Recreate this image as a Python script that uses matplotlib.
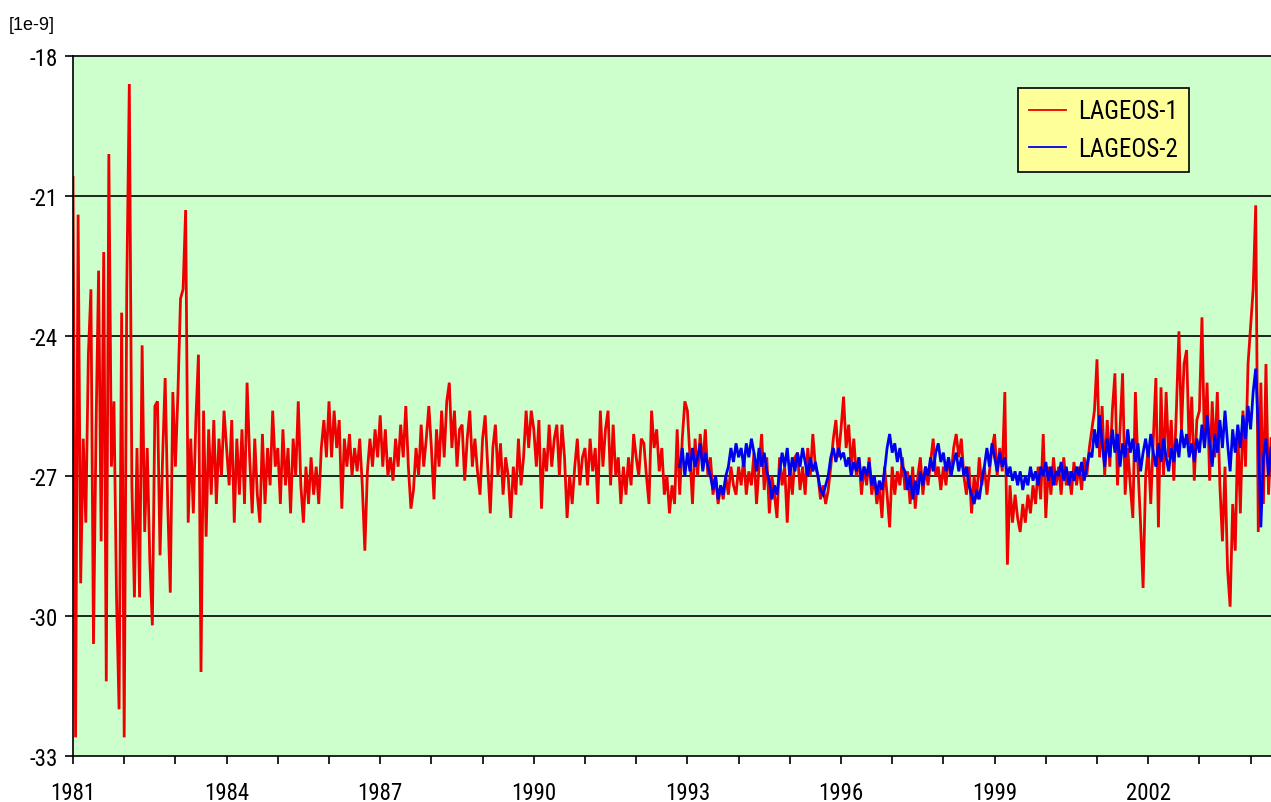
import numpy as np
import matplotlib
matplotlib.use("Agg")
import matplotlib.pyplot as plt
from matplotlib.ticker import MultipleLocator
from matplotlib.font_manager import FontProperties, findfont

# ---------------- data (units 1e-9) ----------------
L1_START = 1981.0      # first LAGEOS-1 epoch (year)
L2_START = 1992.85     # first LAGEOS-2 epoch (year)
STEP = 0.05            # sampling interval (year)

lageos1 = [
    # 1981
    -20.6, -32.6, -21.4, -29.3, -26.2, -28.0, -24.4, -23.0, -30.6, -26.0,
    -22.6, -28.4, -22.2, -31.4, -20.1, -26.8, -25.4, -29.6, -32.0, -23.5,
    # 1982
    -32.6, -23.0, -18.6, -27.2, -29.6, -26.4, -29.6, -24.2, -28.2, -26.4,
    -28.8, -30.2, -25.5, -25.4, -28.7, -26.6, -24.9, -27.6, -29.5, -25.2,
    # 1983
    -26.8, -25.2, -23.2, -23.0, -21.3, -28.0, -26.2, -27.8, -25.8, -24.4,
    -31.2, -25.6, -28.3, -26.0, -27.4, -25.8, -27.6, -26.2, -27.0, -25.6,
    # 1984
    -26.4, -27.2, -25.8, -28.0, -26.2, -27.4, -26.0, -27.6, -25.0, -26.6,
    -27.8, -26.2, -27.4, -28.0, -26.1, -27.6, -26.4, -27.2, -25.6, -26.8,
    # 1985
    -26.4, -27.6, -26.0, -27.2, -26.4, -27.8, -26.2, -27.0, -25.4, -27.2,
    -28.0, -26.8, -27.6, -26.6, -27.4, -26.8, -27.6, -26.4, -25.8, -26.6,
    # 1986
    -25.4, -26.6, -25.6, -26.4, -25.8, -27.7, -26.2, -26.8, -26.1, -27.0,
    -26.4, -26.9, -26.2, -27.2, -28.6, -26.9, -26.2, -26.8, -26.0, -26.6,
    # 1987
    -25.7, -26.8, -26.0, -27.0, -26.6, -27.1, -26.2, -26.8, -25.9, -26.6,
    -25.5, -26.8, -27.7, -27.3, -26.4, -27.0, -25.9, -26.8, -26.2, -25.5,
    # 1988
    -26.4, -27.5, -26.0, -26.8, -25.6, -26.6, -25.4, -25.0, -26.4, -25.6,
    -26.8, -26.0, -25.9, -27.1, -26.2, -25.6, -26.8, -26.2, -26.9, -27.4,
    # 1989
    -26.2, -25.7, -26.8, -27.8, -26.4, -25.9, -27.0, -26.3, -27.4, -26.6,
    -27.0, -27.9, -26.8, -27.4, -26.2, -27.2, -26.6, -25.6, -26.4, -25.6,
    # 1990
    -26.0, -26.8, -25.8, -27.7, -26.4, -26.9, -25.9, -26.8, -26.2, -25.9,
    -27.0, -25.9, -26.6, -27.9, -27.0, -27.6, -26.8, -26.2, -27.2, -26.6,
    # 1991
    -26.4, -27.2, -26.2, -26.9, -26.4, -27.6, -25.6, -26.8, -26.0, -25.6,
    -27.2, -25.9, -27.0, -26.6, -27.6, -26.8, -27.4, -26.6, -27.2, -26.1,
    # 1992
    -26.6, -27.0, -26.2, -26.3, -27.0, -27.6, -25.6, -26.4, -26.0, -26.9,
    -26.4, -27.4, -27.0, -27.8, -27.2, -27.6, -26.0, -27.4, -26.2, -25.4,
    # 1993
    -25.6, -26.6, -27.6, -26.2, -27.0, -26.1, -26.8, -26.0, -27.0, -26.6,
    -27.4, -27.0, -27.6, -27.2, -27.5, -27.0, -27.4, -26.8, -27.2, -27.4,
    # 1994
    -26.8, -27.2, -26.6, -27.4, -26.9, -27.2, -26.5, -27.6, -26.8, -26.1,
    -27.3, -26.6, -27.8, -27.0, -27.4, -27.9, -26.6, -27.2, -26.8, -28.0,
    # 1995
    -26.8, -27.4, -26.6, -26.5, -27.3, -26.8, -27.4, -26.4, -27.0, -26.1,
    -26.8, -27.0, -27.5, -27.2, -27.6, -27.3, -26.8, -26.2, -25.8, -26.6,
    # 1996
    -26.0, -25.3, -26.4, -25.9, -26.8, -26.2, -27.0, -26.6, -27.4, -26.8,
    -27.2, -26.6, -27.4, -27.0, -27.6, -27.2, -27.9, -26.8, -27.4, -28.1,
    # 1997
    -26.8, -27.4, -26.9, -27.2, -26.6, -27.3, -26.9, -27.6, -26.8, -27.7,
    -27.0, -26.6, -27.4, -26.8, -27.2, -26.7, -26.2, -27.0, -26.8, -27.3,
    # 1998
    -26.8, -27.2, -26.6, -27.0, -26.4, -26.1, -26.6, -26.2, -27.0, -27.4,
    -26.8, -27.8, -27.0, -27.5, -26.6, -27.2, -26.8, -27.4, -26.9, -26.4,
    # 1999
    -26.1, -27.0, -26.4, -26.9, -25.2, -28.9, -27.2, -28.0, -27.4, -27.9,
    -28.2, -27.6, -28.0, -27.4, -27.8, -27.2, -27.6, -26.8, -27.5, -26.1,
    # 2000
    -27.9, -26.8, -27.4, -26.6, -27.2, -26.8, -27.4, -26.6, -27.2, -26.9,
    -27.4, -26.7, -27.2, -26.8, -27.3, -26.6, -27.0, -26.4, -26.0, -25.6,
    # 2001
    -24.5, -26.6, -25.5, -27.0, -25.8, -26.8, -25.6, -24.8, -27.2, -26.0,
    -24.8, -27.4, -26.4, -27.2, -27.9, -25.2, -26.8, -28.0, -29.4, -27.0,
    # 2002
    -26.4, -27.6, -26.2, -24.9, -28.1, -25.1, -27.0, -25.2, -26.6, -25.8,
    -27.1, -25.6, -23.9, -26.0, -24.6, -24.3, -26.4, -25.3, -27.1, -25.8,
    # 2003
    -25.6, -23.6, -26.4, -25.0, -27.1, -25.4, -26.6, -25.2, -27.2, -28.4,
    -26.8, -29.0, -29.8, -27.6, -28.6, -26.0, -27.8, -25.6, -26.8, -24.6,
    # 2004
    -23.8, -23.0, -21.2, -28.2, -25.0, -27.6, -24.6, -27.4, -26.2,
]

lageos2 = [
    # 1992 (from launch)
    -26.8, -26.4, -27.0,
    # 1993
    -26.5, -26.9, -26.4, -26.8, -26.6, -26.3, -26.9, -26.5, -26.8, -27.0,
    -27.3, -27.0, -27.5, -27.2, -27.4, -27.0, -26.8, -26.4, -26.7, -26.3,
    # 1994
    -26.6, -26.4, -26.8, -26.3, -26.6, -26.2, -26.5, -26.9, -26.4, -26.8,
    -26.5, -26.9, -27.1, -27.5, -27.2, -27.4, -26.9, -26.5, -26.8, -26.4,
    # 1995
    -27.0, -26.6, -26.9, -26.5, -26.8, -26.4, -26.7, -27.0, -26.6, -26.9,
    -26.7, -27.0, -27.3, -27.4, -27.2, -27.0, -26.6, -26.4, -26.7, -26.4,
    # 1996
    -26.6, -26.5, -26.8, -26.6, -27.0, -26.7, -26.9, -26.6, -27.1, -26.8,
    -27.0, -26.7, -27.2, -27.0, -27.4, -27.1, -27.3, -26.9, -26.4, -26.1,
    # 1997
    -26.5, -26.3, -26.7, -26.4, -26.8, -26.9, -27.3, -27.0, -27.5, -27.1,
    -27.4, -26.9, -27.2, -26.8, -27.0, -26.6, -26.9, -26.5, -26.3, -26.7,
    # 1998
    -26.5, -26.9, -26.6, -27.0, -26.7, -26.5, -26.9, -26.6, -27.0, -26.8,
    -27.2, -27.4, -27.6, -27.3, -27.5, -27.1, -26.8, -26.4, -26.8, -26.3,
    # 1999
    -26.6, -26.9, -26.5, -26.8, -26.6, -27.0, -26.8, -27.1, -26.9, -27.2,
    -26.9, -27.3, -27.0, -27.2, -26.8, -27.1, -26.9, -27.2, -26.8, -27.0,
    # 2000
    -26.7, -27.1, -26.8, -27.2, -26.9, -27.0, -26.7, -27.1, -26.8, -27.2,
    -26.9, -27.1, -26.8, -27.0, -26.7, -27.1, -26.8, -26.5, -26.6, -26.0,
    # 2001
    -26.4, -25.7, -26.3, -26.8, -26.2, -26.6, -26.0, -26.5, -26.1, -26.8,
    -26.3, -26.6, -26.0, -26.5, -26.2, -26.7, -26.3, -26.9, -26.5, -26.2,
    # 2002
    -26.6, -26.1, -26.5, -26.8, -26.3, -26.7, -26.2, -26.6, -26.9, -26.4,
    -26.7, -26.2, -26.6, -26.0, -26.4, -26.1, -26.6, -26.3, -26.7, -26.2,
    # 2003
    -26.5, -25.9, -26.4, -25.7, -26.3, -26.8, -26.1, -26.5, -25.8, -26.4,
    -25.6, -26.3, -26.9, -26.0, -26.5, -25.9, -26.4, -25.7, -26.2, -25.5,
    # 2004
    -26.0, -25.2, -24.7, -26.0, -28.1, -26.6, -26.2, -27.0, -26.4,
]

series_labels = ["LAGEOS-1", "LAGEOS-2"]
x_tick_years = [1981, 1984, 1987, 1990, 1993, 1996, 1999, 2002]
y_ticks = [-33, -30, -27, -24, -21, -18]
unit_label = "[1e-9]"

# ---------------- fonts: prefer a narrow sans like the original ----------------
def pick_family(cands):
    for c in cands:
        try:
            findfont(FontProperties(family=c), fallback_to_default=False)
            return c
        except Exception:
            continue
    return "DejaVu Sans"

narrow = pick_family(["Liberation Sans Narrow", "Roboto Condensed",
                      "Open Sans Condensed", "DejaVu Sans Condensed",
                      "Liberation Sans"])
is_narrow = narrow != "Liberation Sans"
families = [narrow, "Liberation Sans", "DejaVu Sans"]
tick_size = 16.5 if is_narrow else 14
leg_size = 18 if is_narrow else 15.5

# ---------------- figure ----------------
W, H = 1271, 803
fig = plt.figure(figsize=(W / 100, H / 100), dpi=100)
fig.patch.set_facecolor("white")

ax_left, ax_right, ax_top, ax_bottom = 73, 1271, 57, 757
ax = fig.add_axes([ax_left / W, (H - ax_bottom) / H,
                   (ax_right - ax_left) / W, (ax_bottom - ax_top) / H])
ax.set_facecolor("#CCFFCC")

px_per_year = 51.2
ax.set_xlim(1981, 1981 + (ax_right - ax_left) / px_per_year)
ax.set_ylim(-33, -18)

for yv in y_ticks[1:-1]:
    ax.axhline(yv, color="black", lw=1.2, zorder=1)

t1 = L1_START + STEP * np.arange(len(lageos1))
t2 = L2_START + STEP * np.arange(len(lageos2))
ax.plot(t1, lageos1, color="#EE0000", lw=2.0, zorder=2, label=series_labels[0],
        solid_joinstyle="miter")
ax.plot(t2, lageos2, color="#0000EE", lw=2.0, zorder=3, label=series_labels[1],
        solid_joinstyle="miter")

for s in ["left", "bottom", "top"]:
    ax.spines[s].set_color("black")
    ax.spines[s].set_linewidth(1.2)
ax.spines["right"].set_visible(False)

tick_font = FontProperties(family=families, size=tick_size)

ax.set_xticks(x_tick_years)
ax.set_xticklabels([str(y) for y in x_tick_years])
ax.xaxis.set_minor_locator(MultipleLocator(1))
ax.set_yticks(y_ticks)
ax.set_yticklabels([str(y) for y in y_ticks])
for lab in ax.get_xticklabels() + ax.get_yticklabels():
    lab.set_fontproperties(tick_font)

ax.tick_params(axis="x", which="both", direction="out", length=6, width=1.2,
               color="black", pad=12)
ax.tick_params(axis="y", which="both", direction="out", length=6, width=1.2,
               color="black", pad=5)

fig.text(9 / W, 1 - 25 / H, unit_label, fontsize=13, va="center", ha="left",
         family=["Liberation Sans", "DejaVu Sans"])

leg_font = FontProperties(family=families, size=leg_size)
leg = ax.legend(loc="upper left", bbox_to_anchor=(1018 / W, 1 - 89 / H),
                bbox_transform=fig.transFigure, frameon=True, fancybox=False,
                facecolor="#FFFF99", edgecolor="black", framealpha=1,
                prop=leg_font, handlelength=1.45, handletextpad=0.5,
                borderpad=0.45, labelspacing=0.55, borderaxespad=0)
leg.get_frame().set_linewidth(1.2)
for line in leg.get_lines():
    line.set_linewidth(1.3)

fig.savefig("out.png", dpi=100, facecolor="white")
